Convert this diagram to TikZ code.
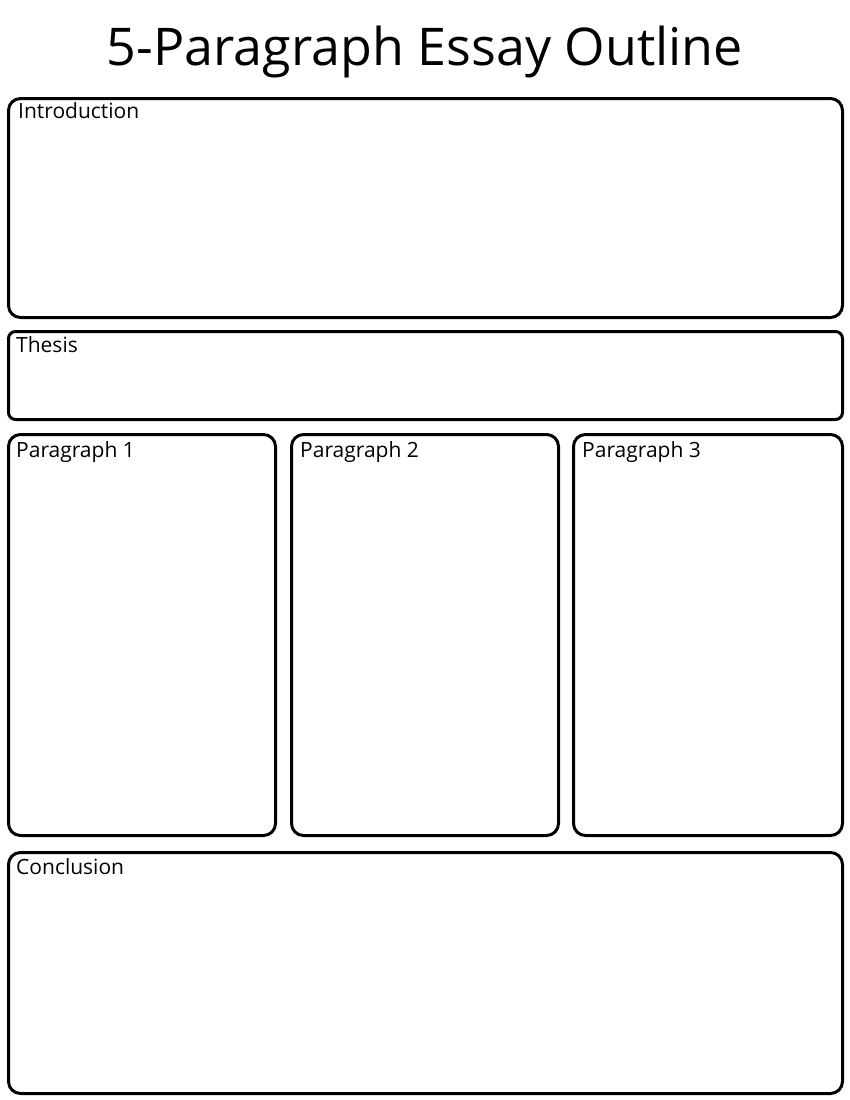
\documentclass[tikz,border=0pt]{standalone}
\usepackage{fontspec}
\setmainfont{Open Sans}
\begin{document}
\begin{tikzpicture}[x=1bp,y=-1bp,
  panel/.style={draw=black, line width=3bp, rounded corners=12bp, inner sep=0pt, outer sep=0pt, anchor=north west},
  lbl/.style={anchor=base west, inner sep=0pt, font=\fontsize{21bp}{24bp}\selectfont},
  ]
\useasboundingbox (0,0) rectangle (850,1100);
\fill[white] (0,0) rectangle (850,1100);
\node[anchor=base, inner sep=0pt, font=\fontsize{52bp}{56bp}\selectfont] (title) at (425,65) {5-Paragraph Essay Outline};
\node[panel, minimum width=834bp, minimum height=219bp] (intro) at (8.5,98.5) {};
\node[panel, rounded corners=7bp, minimum width=834bp, minimum height=88bp] (thesis) at (8.5,331.5) {};
\node[panel, minimum width=267bp, minimum height=401bp] (p1) at (8.5,434.5) {};
\node[panel, minimum width=267bp, minimum height=401bp] (p2) at (291.5,434.5) {};
\node[panel, minimum width=269bp, minimum height=401bp] (p3) at (573.5,434.5) {};
\node[panel, minimum width=834bp, minimum height=241bp] (concl) at (8.5,852.5) {};
\node[lbl] (lintro) at (18,118) {Introduction};
\node[lbl] (lthesis) at (16,352.5) {Thesis};
\node[lbl] (lp1) at (16,457) {Paragraph 1};
\node[lbl] (lp2) at (300,457) {Paragraph 2};
\node[lbl] (lp3) at (582,457) {Paragraph 3};
\node[lbl] (lconcl) at (16,874) {Conclusion};
\end{tikzpicture}
\end{document}
